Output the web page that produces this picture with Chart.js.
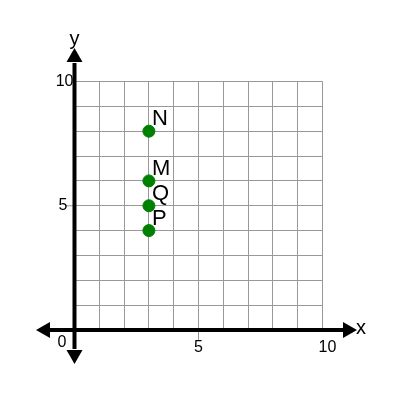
<!DOCTYPE html>
<html>
<head>
<meta charset="utf-8">
<script src="https://cdn.jsdelivr.net/npm/chart.js@4/dist/chart.umd.min.js"></script>
<style>
  html, body { margin: 0; padding: 0; background: #fff; }
  #wrap { width: 400px; height: 400px; }
</style>
</head>
<body>
<div id="wrap"><canvas id="plane"></canvas></div>
<script>
var pointNames = ["N", "M", "Q", "P"];
var xValues = [3, 3, 3, 3];
var yValues = [8, 6, 5, 4];
var xTicks = [5, 10];
var yTicks = [5, 10];

var pts = [];
for (var i = 0; i < pointNames.length; i++) {
	pts.push({ x: xValues[i], y: yValues[i] });
}

function arrow(ctx, tx, ty, dx, dy) {
	// tip at (tx,ty), pointing along (dx,dy)
	var len = 14, half = 8;
	var bx = tx - dx * len, by = ty - dy * len;
	ctx.beginPath();
	ctx.moveTo(tx, ty);
	ctx.lineTo(bx - dy * half, by + dx * half);
	ctx.lineTo(bx + dy * half, by - dx * half);
	ctx.closePath();
	ctx.fill();
}

var axesPlugin = {
	id: "axesPlugin",
	afterDatasetsDraw: function(chart) {
		var ctx = chart.ctx;
		var xs = chart.scales.x, ys = chart.scales.y;
		var ox = xs.getPixelForValue(0), oy = ys.getPixelForValue(0);
		ctx.save();

		// little tick marks at 5
		ctx.strokeStyle = "#999";
		ctx.lineWidth = 1;
		ctx.beginPath();
		ctx.moveTo(ox - 9, ys.getPixelForValue(5));
		ctx.lineTo(ox, ys.getPixelForValue(5));
		ctx.moveTo(xs.getPixelForValue(5), oy);
		ctx.lineTo(xs.getPixelForValue(5), oy + 10);
		ctx.stroke();

		// axes
		ctx.strokeStyle = "#000";
		ctx.fillStyle = "#000";
		ctx.lineWidth = 4;
		ctx.beginPath();
		ctx.moveTo(50, oy);
		ctx.lineTo(343, oy);
		ctx.moveTo(ox, 63);
		ctx.lineTo(ox, 349);
		ctx.stroke();
		arrow(ctx, 357, oy, 1, 0);
		arrow(ctx, 36, oy, -1, 0);
		arrow(ctx, ox, 48, 0, -1);
		arrow(ctx, ox, 364, 0, 1);

		// axis names
		ctx.font = "20px 'Liberation Sans', Arial, sans-serif";
		ctx.textBaseline = "alphabetic";
		ctx.textAlign = "left";
		ctx.fillText("x", 356, 334);
		ctx.textAlign = "center";
		ctx.fillText("y", ox, 45);

		// tick labels
		ctx.font = "16px 'Liberation Sans', Arial, sans-serif";
		ctx.textBaseline = "middle";
		ctx.textAlign = "right";
		yTicks.forEach(function(v) {
			ctx.fillText(String(v), ox - 7 + (v >= 10 ? 6 : 0), ys.getPixelForValue(v));
		});
		ctx.fillText("0", ox - 8, oy + 13);
		ctx.textAlign = "center";
		xTicks.forEach(function(v) {
			ctx.fillText(String(v), xs.getPixelForValue(v) + (v >= 10 ? 5 : 0), oy + 18);
		});

		// point names
		ctx.font = "22px 'Liberation Sans', Arial, sans-serif";
		ctx.textBaseline = "alphabetic";
		ctx.textAlign = "left";
		var meta = chart.getDatasetMeta(0);
		meta.data.forEach(function(el, i) {
			ctx.fillText(pointNames[i], el.x + 3, el.y - 6);
		});
		ctx.restore();
	}
};

new Chart(document.getElementById("plane").getContext("2d"), {
	type: "scatter",
	data: {
		datasets: [{
			data: pts,
			backgroundColor: "#008000",
			borderColor: "#008000",
			pointRadius: 6,
			pointHoverRadius: 6
		}]
	},
	options: {
		responsive: true,
		maintainAspectRatio: false,
		animation: false,
		events: [],
		layout: { padding: { left: 74.5, right: 77.5, top: 81.5, bottom: 70 } },
		plugins: { legend: { display: false }, tooltip: { enabled: false } },
		scales: {
			x: {
				min: 0, max: 10,
				ticks: { display: false, stepSize: 1 },
				grid: { color: "#999", lineWidth: 1, drawTicks: false },
				border: { display: false }
			},
			y: {
				min: 0, max: 10,
				ticks: { display: false, stepSize: 1 },
				grid: { color: "#999", lineWidth: 1, drawTicks: false },
				border: { display: false }
			}
		}
	},
	plugins: [axesPlugin]
});
</script>
</body>
</html>
